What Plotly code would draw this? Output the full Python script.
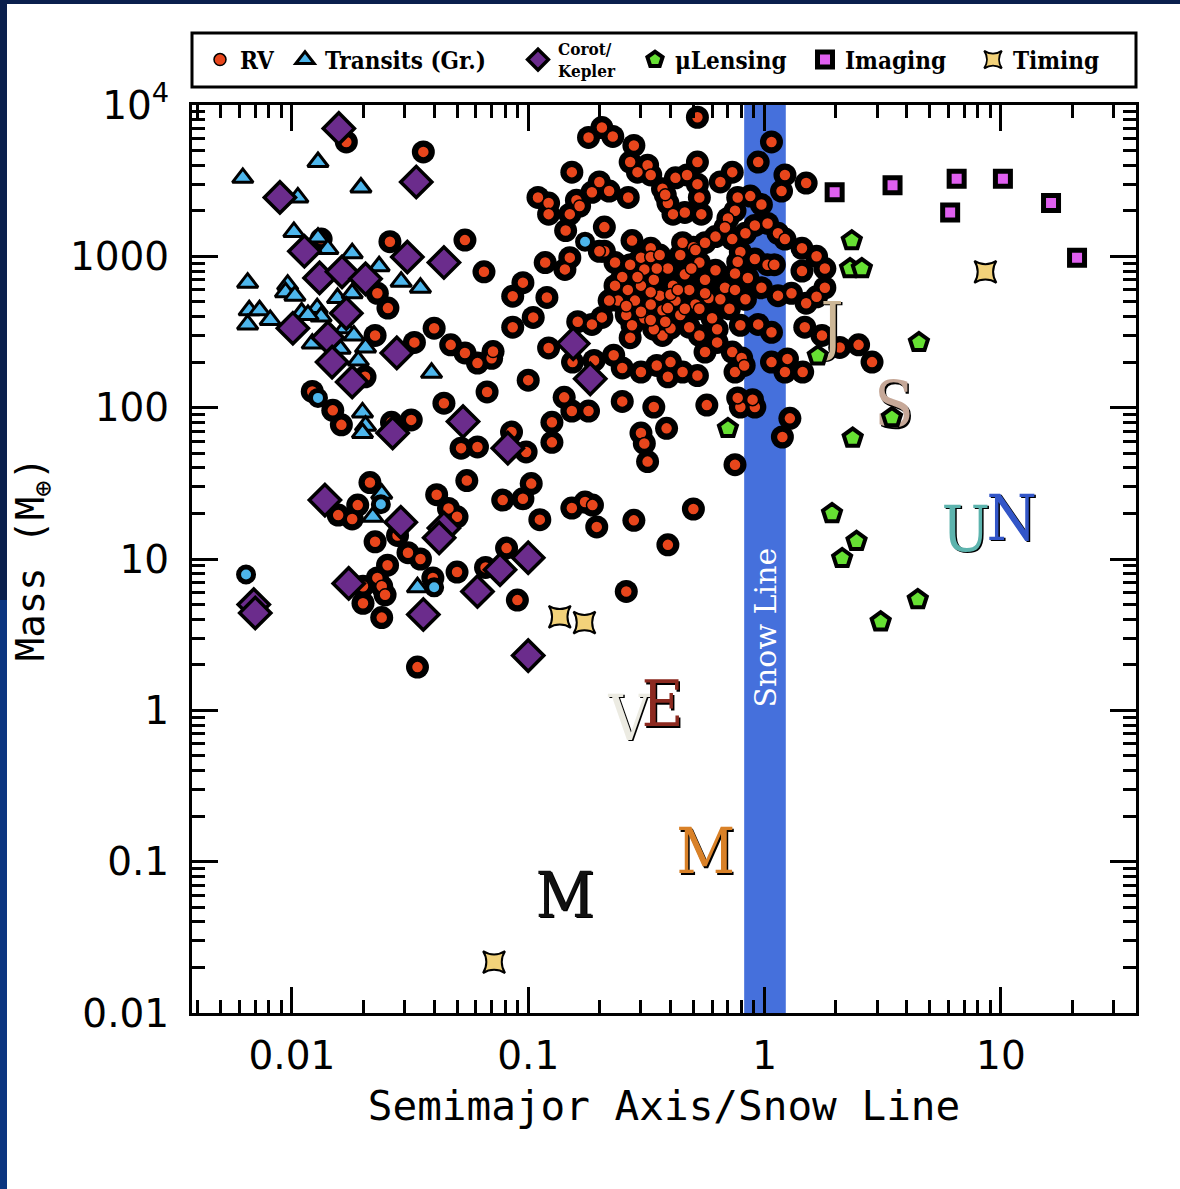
import math
import plotly.graph_objects as go

# ---------------- data (semimajor axis / snow line, mass in Earth masses) ----------------
rv_a = [
    0.017, 0.036, 0.0133, 0.026, 0.054, 0.065, 0.023, 0.0255, 0.086, 0.086,
    0.0225, 0.033, 0.040, 0.047, 0.054, 0.061, 0.070, 0.071, 0.067, 0.044,
    0.0122, 0.0149, 0.0204, 0.0162, 0.032, 0.0264, 0.052, 0.061, 0.055, 0.078,
    0.085, 0.019, 0.0157, 0.018, 0.0214, 0.041, 0.046, 0.050, 0.0225, 0.028,
    0.031, 0.035, 0.0254, 0.023, 0.024, 0.0248, 0.020, 0.020, 0.024, 0.0395,
    0.050, 0.066, 0.081, 0.090, 0.034,
    0.126, 0.126, 0.098, 0.30, 0.31, 0.32, 0.385, 0.34, 0.25, 0.153,
    0.18, 0.79, 0.91, 0.77, 0.89, 0.57, 0.75, 0.26, 0.39, 0.50,
    0.28, 0.195, 0.174, 0.187, 0.153, 0.112, 0.103, 0.095, 0.142, 0.10,
    0.30, 0.35, 0.40, 0.45, 0.39, 0.52, 0.56, 0.63, 0.73, 0.80,
    0.75, 0.82, 0.122, 0.154, 0.19, 0.23, 0.25, 0.27, 0.37, 0.40,
    0.205, 0.186, 0.162, 0.105, 0.095, 0.12, 0.118, 0.143, 0.15, 0.144,
    0.15, 0.11, 0.122, 0.122, 0.16, 0.165, 0.186, 0.20, 0.22, 0.265,
    0.21, 0.153, 0.18, 0.205, 0.228, 0.28, 0.52, 0.27, 0.32, 0.33,
    0.37, 0.29, 0.52, 0.42, 0.47, 0.52, 0.65, 0.73, 0.94, 1.07,
    1.22, 1.18, 1.5, 0.39, 0.41, 0.46, 0.38, 0.53, 0.54, 0.77,
    0.87, 0.97, 0.75, 0.70, 0.68, 0.91, 1.03, 1.14, 1.22, 0.83,
    0.73, 0.62, 0.56, 0.275, 0.33, 0.30, 0.21, 0.20, 0.45, 0.50,
    1.44, 1.66, 1.8, 1.44, 0.79, 0.77, 0.91, 1.03, 1.1, 0.75,
    0.85, 0.97, 1.14, 1.30, 1.5, 1.66, 1.8, 1.48, 1.75, 2.08,
    2.5, 2.85, 1.07, 1.25, 1.45, 1.22, 0.94, 1.07, 1.28, 1.19,
    0.233, 0.25, 0.264, 0.283, 0.30, 0.31, 0.33, 0.34, 0.36, 0.37,
    0.39, 0.41, 0.42, 0.44, 0.46, 0.48, 0.51, 0.53, 0.56, 0.58,
    0.60, 0.24, 0.26, 0.275, 0.31, 0.33, 0.34, 0.38, 0.48, 0.53,
    0.65, 0.68, 0.62, 0.71, 0.79, 0.83, 0.75, 0.233, 0.22, 0.36,
    0.44, 0.51, 0.27, 0.33, 0.40, 0.46, 0.53, 0.63, 0.26, 0.29,
    0.35, 0.43, 0.49, 0.56, 0.39, 0.30, 0.33,
]
rv_m = [
    5700, 4900, 1300, 1250, 1280, 790, 570, 455, 545, 340,
    300, 270, 335, 260, 230, 197, 212, 235, 127, 107,
    128, 96, 160, 77, 83, 80, 54, 55, 33, 24.5,
    69, 22.7, 19.5, 18.4, 32, 26.6, 21.6, 19, 13, 14.3,
    11, 10, 9.1, 7.5, 6.6, 5.8, 6.6, 5.1, 4.1, 7.5,
    8.2, 8.8, 11.8, 5.35, 1.93,
    80, 59, 51, 68, 58, 44, 73, 101, 110, 95,
    95, 101, 101, 116, 113, 104, 42, 6.1, 12.4, 21.4,
    18, 16.3, 23.8, 22.7, 21.7, 18.2, 31.5, 25, 117, 152,
    172, 190, 200, 172, 160, 163, 233, 270, 233, 213,
    172, 190, 248, 200, 205, 222, 183, 290, 300, 335,
    395, 355, 370, 395, 670, 535, 910, 820, 980, 1480,
    1900, 2450, 2250, 1900, 2350, 2150, 2650, 3100, 2700, 2450,
    1560, 3600, 6100, 7100, 6200, 5400, 8300, 4200, 4000, 3450,
    2800, 3600, 4200, 3300, 3450, 3000, 3100, 3600, 4200, 5700,
    3450, 2700, 3050, 2250, 1900, 1950, 2550, 2450, 1900, 2450,
    2500, 2200, 2000, 1780, 1550, 1600, 1650, 1420, 1300, 1420,
    1300, 1350, 1230, 1270, 1130, 980, 1080, 1080, 1230, 1150,
    1130, 1000, 830, 800, 1070, 920, 960, 880, 880, 770,
    720, 620, 550, 570, 490, 540, 620, 340, 300, 250,
    260, 200, 200, 210, 172, 172, 355, 315, 85, 64,
    910, 730, 600, 510, 640, 820, 990, 700, 550, 440,
    830, 640, 510, 410, 760, 600, 480, 910, 700, 530,
    390, 510, 410, 350, 390, 480, 330, 370, 340, 300,
    520, 620, 810, 450, 350, 520, 600, 640, 510, 1020,
    1020, 1100, 880, 580, 560, 450, 450, 330, 470, 730,
    830, 600, 830, 570, 455, 430, 380,
]

tr_a = [
    0.0129, 0.0062, 0.0196, 0.0106, 0.0102, 0.0129, 0.0142, 0.018, 0.0234, 0.0065,
    0.0096, 0.0094, 0.0103, 0.029, 0.035, 0.0066, 0.0073, 0.0065, 0.0081, 0.0128,
    0.0133, 0.0156, 0.018, 0.011, 0.0117, 0.0148, 0.0168, 0.0183, 0.0205, 0.0122,
    0.016, 0.0191, 0.039, 0.0199, 0.0205, 0.0199, 0.024, 0.022, 0.034,
]
tr_m = [
    4200, 3300, 2850, 2450, 1450, 1330, 1120, 1050, 860, 670,
    650, 580, 550, 680, 620, 440, 440, 355, 380, 455,
    400, 530, 570, 425, 410, 300, 335, 300, 250, 265,
    245, 205, 170, 93, 76, 68, 27, 19, 6.5,
]

trc_a = [0.174, 0.0129, 0.0238, 0.040, 0.0064]
trc_m = [1250, 116, 23, 6.5, 7.9]

ck_a = [
    0.0158, 0.0336, 0.0089, 0.0113, 0.0308, 0.044, 0.0131, 0.0163, 0.0205, 0.0101,
    0.017, 0.0142, 0.0148, 0.018, 0.0278, 0.0267, 0.053, 0.082, 0.0138, 0.0289,
    0.044, 0.042, 0.0174, 0.036, 0.061, 0.076, 0.0069, 0.0070, 0.10, 0.10,
    0.155, 0.183,
]
ck_m = [
    7000, 3100, 2450, 1080, 990, 910, 720, 790, 710, 335,
    420, 290, 200, 148, 230, 68, 81, 54, 24.5, 17.5,
    16, 13.8, 6.9, 4.3, 6.1, 8.5, 5.0, 4.4, 2.3, 10.2,
    265, 155,
]

ml_a = [0.70, 2.34, 2.30, 2.58, 4.5, 3.46, 2.36, 1.93, 2.45, 2.13, 4.45, 3.1, 1.68]
ml_m = [73, 1270, 830, 830, 270, 86, 63, 20, 13.1, 10.1, 5.4, 3.85, 220]

im_a = [1.98, 3.48, 6.5, 10.2, 6.1, 16.3, 21]
im_m = [2650, 2950, 3250, 3250, 1950, 2250, 980]

tm_a = [0.136, 0.173, 0.0717, 8.6]
tm_m = [4.15, 3.8, 0.0217, 790]

pl_letter = ["M", "V", "E", "M", "J", "S", "U", "N"]
pl_a = [0.143, 0.268, 0.370, 0.564, 1.93, 3.53, 7.1, 11.1]
pl_m = [0.055, 0.815, 1.0, 0.107, 318, 95, 14.5, 17.1]
pl_color = ["#111111", "#ecebe2", "#8c2a20", "#d98128", "#cdb796", "#c6a898", "#5db4ae", "#3356c8"]

snow_lo, snow_hi = 0.82, 1.23

x_ticks = [0.01, 0.1, 1, 10]
x_ticktext = ["0.01", "0.1", "1", "10"]
y_ticks = [0.01, 0.1, 1, 10, 100, 1000, 10000]
y_ticktext = ["0.01", "0.1", "1", "10", "100", "1000", "10<sup>4</sup>"]

# ---------------- figure ----------------
C_RV = "#E8461C"
C_TR = "#4DB6EC"
C_CK = "#6B2C8C"
C_ML = "#66E033"
C_IM = "#E060F0"
C_TM = "#F2D27A"

fig = go.Figure()

fig.add_trace(go.Scatter(
    x=rv_a, y=rv_m, mode="markers", showlegend=False, hoverinfo="skip",
    marker=dict(symbol="circle", size=23, color="black", line=dict(width=0)),
))
fig.add_trace(go.Scatter(
    x=rv_a, y=rv_m, mode="markers", name="RV", legend="legend",
    marker=dict(symbol="circle", size=12, color=C_RV, line=dict(width=1.5, color="black")),
))
fig.add_trace(go.Scatter(
    x=tr_a, y=tr_m, mode="markers", name="Transits (Gr.)", legend="legend2",
    marker=dict(symbol="triangle-up", size=18, color=C_TR, line=dict(width=3, color="black")),
))
fig.add_trace(go.Scatter(
    x=trc_a, y=trc_m, mode="markers", showlegend=False,
    marker=dict(symbol="circle", size=15, color=C_TR, line=dict(width=5, color="black")),
))
fig.add_trace(go.Scatter(
    x=ck_a, y=ck_m, mode="markers", name="Corot/<br>Kepler", legend="legend3",
    marker=dict(symbol="diamond", size=24, color=C_CK, line=dict(width=3.5, color="black")),
))
fig.add_trace(go.Scatter(
    x=pl_a, y=pl_m, mode="text", text=pl_letter, showlegend=False, hoverinfo="skip",
    textfont=dict(family="DejaVu Serif Condensed, DejaVu Serif", size=64, color=pl_color,
                  shadow="1.5px 1.5px 0px #000"),
))
fig.add_trace(go.Scatter(
    x=ml_a, y=ml_m, mode="markers", name="\u03bcLensing", legend="legend4",
    marker=dict(symbol="pentagon", size=19, color=C_ML, line=dict(width=4, color="black")),
))
fig.add_trace(go.Scatter(
    x=im_a, y=im_m, mode="markers", name="Imaging", legend="legend5",
    marker=dict(symbol="square", size=15, color=C_IM, line=dict(width=5, color="black")),
))
fig.add_trace(go.Scatter(
    x=tm_a, y=tm_m, mode="markers", name="Timing", legend="legend6",
    marker=dict(symbol="star-square", size=20, color=C_TM, line=dict(width=2, color="black")),
))

# ---------------- layout ----------------
L, R, T, B = 192, 44, 105, 176
W, H = 1180, 1189
pw, ph = W - L - R, H - T - B

def px2paper_x(px):
    return (px - L) / pw

def px2paper_y(py):
    return (H - B - py) / ph

x_minor = [m * 10 ** e for e in range(-3, 2) for m in range(2, 10)]
y_minor = [m * 10 ** e for e in range(-2, 4) for m in range(2, 10)]

tick_font = dict(family="DejaVu Sans", size=39, color="black")
title_font = dict(family="DejaVu Sans Mono", size=41, color="black")
leg_font = dict(family="DejaVu Serif Condensed, DejaVu Serif", size=24, color="black", weight="bold")

shapes = [
    # snow line band
    dict(type="rect", xref="x", yref="paper", x0=snow_lo, x1=snow_hi, y0=0, y1=1,
         fillcolor="#4570DC", line=dict(width=0), layer="below"),
    # legend frame
    dict(type="rect", xref="paper", yref="paper", x0=0, x1=1,
         y0=px2paper_y(87), y1=px2paper_y(33), line=dict(color="black", width=3),
         fillcolor="rgba(0,0,0,0)"),
    # slide border (left and top)
    dict(type="rect", xref="paper", yref="paper", x0=px2paper_x(0), x1=px2paper_x(7),
         y0=px2paper_y(600), y1=px2paper_y(0), fillcolor="#0a1f4d", line=dict(width=0)),
    dict(type="rect", xref="paper", yref="paper", x0=px2paper_x(0), x1=px2paper_x(7),
         y0=px2paper_y(1189), y1=px2paper_y(600), fillcolor="#0b3580", line=dict(width=0)),
    dict(type="rect", xref="paper", yref="paper", x0=px2paper_x(0), x1=px2paper_x(1180),
         y0=px2paper_y(4), y1=px2paper_y(0), fillcolor="#0a1f4d", line=dict(width=0)),
]

leg_y = px2paper_y(60)
def legend_box(px, font=leg_font):
    return dict(x=px2paper_x(px), y=leg_y, xanchor="left", yanchor="middle",
                orientation="h", bgcolor="rgba(0,0,0,0)", borderwidth=0,
                font=font, itemclick=False, itemdoubleclick=False, valign="middle")

fig.update_layout(
    width=W, height=H, autosize=False,
    margin=dict(l=L, r=R, t=T, b=B, pad=0),
    paper_bgcolor="white", plot_bgcolor="white",
    shapes=shapes,
    legend=legend_box(200),
    legend2=legend_box(285),
    legend3=legend_box(518, dict(family="DejaVu Serif Condensed, DejaVu Serif", size=17,
                                 color="black", weight="bold")),
    legend4=legend_box(635),
    legend5=legend_box(805),
    legend6=legend_box(973),
    annotations=[
        dict(x=math.log10(1.0), xref="x", y=px2paper_y(628), yref="paper",
             text="Snow Line", textangle=-90, showarrow=False,
             font=dict(family="DejaVu Serif", size=30, color="white")),
    ],
    xaxis=dict(
        type="log", range=[math.log10(0.00378), math.log10(37.3)],
        showgrid=False, zeroline=False,
        showline=True, linecolor="black", linewidth=3, mirror="allticks",
        ticks="inside", ticklen=26, tickwidth=2.5, tickcolor="black",
        tickmode="array", tickvals=x_ticks, ticktext=x_ticktext,
        tickfont=tick_font, ticklabelstandoff=6,
        minor=dict(ticks="inside", ticklen=13, tickwidth=2.5, tickcolor="black",
                   tickmode="array", tickvals=x_minor, showgrid=False),
        title=dict(text="Semimajor Axis/Snow Line", font=title_font, standoff=15),
    ),
    yaxis=dict(
        type="log", range=[-2, 4],
        showgrid=False, zeroline=False,
        showline=True, linecolor="black", linewidth=3, mirror="allticks",
        ticks="inside", ticklen=26, tickwidth=2.5, tickcolor="black",
        tickmode="array", tickvals=y_ticks, ticktext=y_ticktext,
        tickfont=tick_font, ticklabelstandoff=12,
        minor=dict(ticks="inside", ticklen=13, tickwidth=2.5, tickcolor="black",
                   tickmode="array", tickvals=y_minor, showgrid=False),
        title=dict(text="Mass (M<sub>\u2295</sub>)", font=dict(family="DejaVu Sans Mono", size=39,
                   color="black"), standoff=14),
    ),
)

fig.write_html("out.html", config={"displayModeBar": False},
               post_script="document.body.style.margin='0';")
